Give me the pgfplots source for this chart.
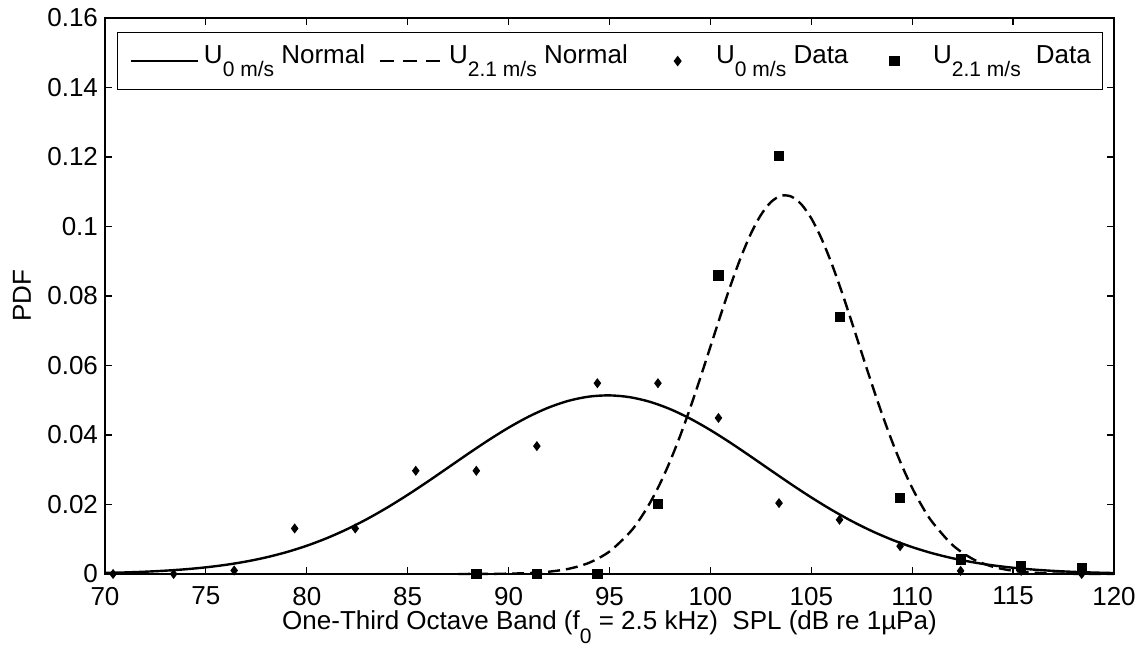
\documentclass[border=0pt]{standalone}
\usepackage{fontspec}
\setmainfont{Liberation Sans}
\usepackage{pgfplots}
\pgfplotsset{compat=1.18}

\newcommand{\chartfont}{\fontsize{13}{15.6}\selectfont}
\newcommand{\sub}[1]{\raisebox{-6.7pt}{\fontsize{10.5}{12}\selectfont #1}}

\pgfplotsset{
  curvekey/.style={legend image code/.code={%
    \path[draw=none, fill=none] (0pt,0pt) rectangle (#1,0.1pt);
    \draw[##1] (0pt,0pt) -- (#1,0pt);}},
  dashkey/.style={legend image code/.code={%
    \path[draw=none, fill=none] (0pt,0pt) rectangle (#1,0.1pt);
    \draw[##1, dash pattern=on 7pt off 4.5pt] (2pt,0pt) -- (#1,0pt);}},
  dotkey/.style={legend image code/.code={%
    \path[draw=none, fill=none] (0pt,0pt) rectangle (#1,0.1pt);
    \draw[##1] plot[only marks] coordinates {(0.5*#1,0pt)};}},
}

% fitted normal curves
\pgfplotstableread{
x      y
70     0.000298
71     0.000447
72     0.000660
73     0.000958
74     0.001366
75     0.001916
76     0.002646
77     0.003592
78     0.004796
79     0.006296
80     0.008131
81     0.010326
82     0.012907
83     0.015857
84     0.019162
85     0.022775
86     0.026620
87     0.030609
88     0.034613
89     0.038493
90     0.042107
91     0.045299
92     0.047931
93     0.049884
94     0.051056
95     0.051396
96     0.050886
97     0.049550
98     0.047458
99     0.044703
100    0.041413
101    0.037738
102    0.033816
103    0.029807
104    0.025839
105    0.022030
106    0.018473
107    0.015235
108    0.012357
109    0.009859
110    0.007736
111    0.005968
112    0.004531
113    0.003384
114    0.002484
115    0.001793
116    0.001274
117    0.000890
118    0.000611
119    0.000413
120    0.000274
}\normalzero

\pgfplotstableread{
x      y
87.5   0.000006
88     0.000011
89     0.000034
90     0.000099
91     0.000265
92     0.000658
93     0.001518
94     0.003252
95     0.006465
96     0.011925
96.5   0.015740
97     0.020405
97.5   0.025953
98     0.032417
98.5   0.039731
99     0.047786
99.5   0.056429
100    0.065389
100.5  0.074371
101    0.083036
101.5  0.090982
102    0.097849
102.5  0.103299
103    0.107027
103.5  0.108837
104    0.108634
104.5  0.106428
105    0.102340
105.5  0.096585
106    0.089467
106.5  0.081347
107    0.072594
107.5  0.063580
108    0.054664
108.5  0.046129
109    0.038205
109.5  0.031054
110    0.024776
110.5  0.019402
111    0.014911
112    0.008328
113    0.004317
114    0.002078
115    0.000928
116    0.000384
117    0.000148
118    0.000053
119    0.000017
120    0.000005
}\normaltwo

% measured histogram values
\pgfplotstableread{
x      y
70.4   0
73.4   0
76.4   0.0010
79.4   0.0131
82.4   0.0131
85.4   0.0297
88.4   0.0297
91.4   0.0368
94.4   0.0549
97.4   0.0549
100.4  0.0449
103.4  0.0204
106.4  0.0156
109.4  0.0080
112.4  0.0009
115.4  0.0009
118.4  0
}\datazero

\pgfplotstableread{
x      y
88.4   0
91.4   0
94.4   0
97.4   0.0202
100.4  0.0859
103.4  0.1204
106.4  0.0740
109.4  0.0219
112.4  0.0042
115.4  0.0023
118.4  0.0016
}\datatwo

\begin{document}
\begin{tikzpicture}
\path[use as bounding box] (-52.5pt,-38.5pt) rectangle (521.5pt,287pt);
\begin{axis}[
  scale only axis,
  width=504.5pt, height=278pt,
  xmin=70, xmax=120, ymin=0, ymax=0.16,
  xtick={70,75,80,85,90,95,100,105,110,115,120},
  xticklabels={70,75,80,85,90,95,100,105,110,115,120},
  ytick={0,0.02,0.04,0.06,0.08,0.1,0.12,0.14,0.16},
  yticklabels={0,0.02,0.04,0.06,0.08,0.1,0.12,0.14,0.16},
  scaled y ticks=false,
  tick align=inside, xtick pos=both, ytick pos=both,
  major tick length=3.5pt,
  axis line style={line width=0.6pt},
  every tick/.style={black, line width=0.6pt},
  tick label style={font=\chartfont},
  xticklabel style={yshift=-3pt},
  label style={font=\chartfont},
  xlabel={One-Third Octave Band (f\sub{0} = 2.5 kHz)\ \ SPL (dB re 1µPa)},
  xlabel style={at={(axis description cs:0.5,0)}, anchor=base, yshift=-28pt},
  ylabel={PDF},
  ylabel style={at={([xshift=-41.5pt]axis description cs:0,0.5)}, anchor=center},
  clip=false,
  legend columns=4,
  legend style={
    at={(axis description cs:0,1)}, anchor=north west,
    xshift=6pt, yshift=-7pt,
    draw=black, line width=0.6pt, fill=white,
    font=\chartfont,
    inner xsep=6pt, inner ysep=5.5pt,
    nodes={inner sep=0pt, text height=10pt, text depth=7.5pt},
    /tikz/every even column/.append style={column sep=0pt},
    /tikz/every odd column/.append style={column sep=2.5pt},
  },
  legend cell align=left,
]
\addplot[black, line width=1.2pt, smooth, curvekey=33.5pt]
  table {\normalzero};
\addlegendentry{\makebox[86pt][l]{U\sub{0 m/s} Normal}}
\addplot[black, line width=1.2pt, smooth, dash pattern=on 6pt off 3pt, dashkey=33.5pt]
  table {\normaltwo};
\addlegendentry{\makebox[97.5pt][l]{U\sub{2.1 m/s} Normal}}
\addplot[black, only marks, mark=diamond*, mark size=2.2pt, dotkey=33.5pt]
  table {\datazero};
\addlegendentry{\makebox[72.5pt][l]{U\sub{0 m/s} Data}}
\addplot[black, only marks, mark=square*, mark size=2.3pt, dotkey=33.5pt]
  table {\datatwo};
\addlegendentry{\makebox[78.5pt][l]{U\sub{2.1 m/s}\hspace{7.5pt}Data}}
\end{axis}
\end{tikzpicture}
\end{document}
